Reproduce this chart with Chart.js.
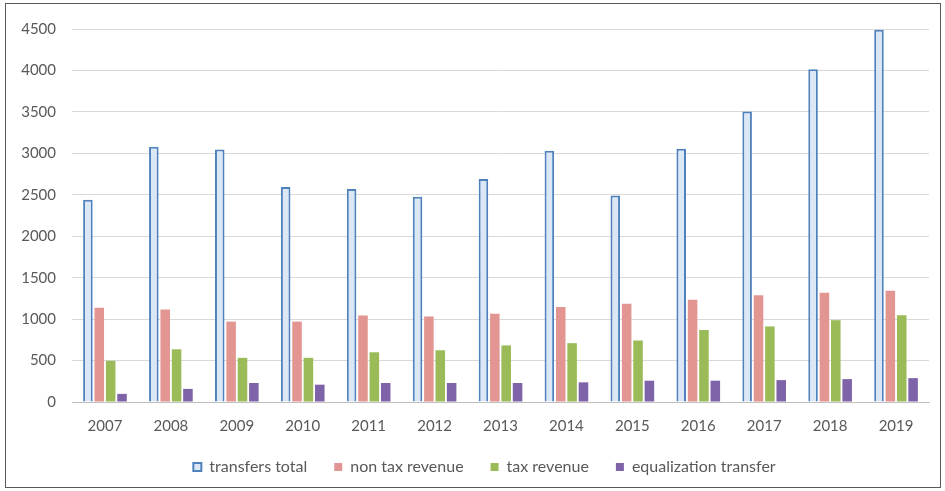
<!DOCTYPE html>
<html>
<head>
<meta charset="utf-8">
<script src="https://cdn.jsdelivr.net/npm/chart.js@4"></script>
<style>
  html, body { margin: 0; padding: 0; background: #fff; }
  #frame {
    position: absolute; left: 5px; top: 3px;
    width: 934px; height: 483px;
    border: 1px solid #5a5a5a;
  }
  #application-chart { display: block; }
</style>
</head>
<body>
<div id="frame"><canvas id="application-chart" width="934" height="481"></canvas></div>
<script>
const years = ['2007', '2008', '2009', '2010', '2011', '2012', '2013', '2014', '2015', '2016', '2017', '2018', '2019']
const transfersTotal = [2440, 3080, 3045, 2595, 2570, 2475, 2690, 3030, 2490, 3055, 3505, 4015, 4490]
const nonTaxRevenue = [1137, 1117, 970, 970, 1045, 1030, 1066, 1145, 1184, 1235, 1287, 1318, 1342]
const taxRevenue = [497, 636, 533, 533, 600, 624, 683, 710, 742, 868, 912, 987, 1046]
const equalizationTransfer = [98, 158, 229, 209, 229, 229, 229, 237, 257, 257, 264, 276, 288]
const yTicks = [0, 500, 1000, 1500, 2000, 2500, 3000, 3500, 4000, 4500]

// the original legend sits a little right of centre
const legendShift = {
  id: 'legendShift',
  afterLayout(chart) {
    const l = chart.legend
    if (!l) return
    l.left += 13
    l.right += 13
  },
}

document.addEventListener('DOMContentLoaded', () => {
  const ctx = document.getElementById('application-chart')?.getContext('2d')
  if (!ctx) return

  const textColor = '#595959'
  const font = { family: 'Lato, "Open Sans", sans-serif', size: 15 }

  new Chart(ctx, {
    type: 'bar',
    data: {
      labels: years,
      datasets: [
        {
          label: 'transfers total',
          data: transfersTotal,
          backgroundColor: '#dce7f6',
          borderColor: '#4f81bd',
          borderWidth: 2,
        },
        { label: 'non tax revenue', data: nonTaxRevenue, backgroundColor: '#e39691' },
        { label: 'tax revenue', data: taxRevenue, backgroundColor: '#9bbb59' },
        { label: 'equalization transfer', data: equalizationTransfer, backgroundColor: '#7f63a8' },
      ],
    },
    plugins: [legendShift],
    options: {
      responsive: false,
      animation: false,
      layout: { padding: { left: 8, right: 11, top: 14, bottom: 0 } },
      datasets: {
        bar: { categoryPercentage: 0.69, barPercentage: 0.84 },
      },
      scales: {
        y: {
          min: 0,
          max: 4500,
          afterBuildTicks: (axis) => { axis.ticks = yTicks.map((v) => ({ value: v })) },
          afterFit: (axis) => { axis.width = 58 },
          ticks: { color: textColor, font, padding: 16, callback: (v) => String(v) },
          grid: { color: '#d9d9d9', drawTicks: false },
          border: { display: false },
        },
        x: {
          afterFit: (axis) => { axis.height = 30 },
          ticks: { color: textColor, font, padding: 7 },
          grid: { display: false },
          border: { color: '#bfbfbf' },
        },
      },
      plugins: {
        legend: {
          position: 'bottom',
          labels: {
            color: textColor,
            font: { family: font.family, size: 16 },
            boxWidth: 8,
            boxHeight: 8,
            padding: 27,
          },
        },
        tooltip: { enabled: false },
      },
    },
  })
})
</script>
</body>
</html>
